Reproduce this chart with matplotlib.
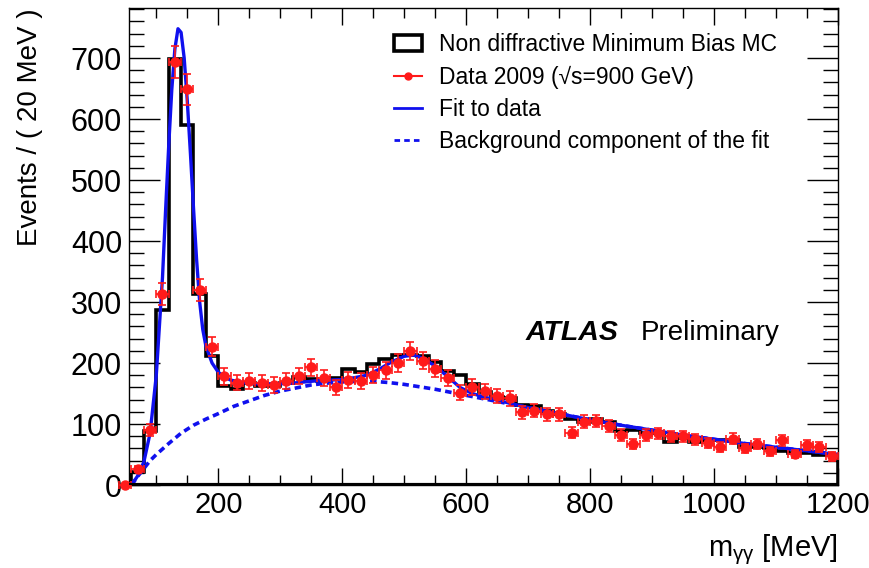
import numpy as np
import matplotlib
matplotlib.use('Agg')
import matplotlib.pyplot as plt
from matplotlib.patches import Patch
from matplotlib.lines import Line2D
from matplotlib.ticker import MultipleLocator

plt.rcParams['font.family'] = ['Liberation Sans', 'DejaVu Sans']
plt.rcParams['mathtext.fontset'] = 'custom'
plt.rcParams['mathtext.rm'] = 'Liberation Sans'
plt.rcParams['mathtext.it'] = 'Liberation Sans:italic'

# MC histogram, 20 MeV bins from 60 to 1200
mc_edges = np.arange(60, 1201, 20)
mc_counts = [22, 88, 287, 698, 591, 313, 212,
             162, 158, 167, 162, 162, 167, 177, 174, 170, 176,
             191, 186, 199, 206, 213, 213, 211, 202, 187, 181,
             165, 152, 144, 143, 131, 129, 121, 116, 108, 104,
             108, 104, 88, 91, 85, 85, 71, 77, 71, 74,
             74, 74, 63, 63, 60, 55, 52, 52, 49, 49]

# data points (bin centres)
data_x = np.arange(50, 1200, 20)
data_y = [0, 26, 90, 313, 694, 649, 320, 227,
          178, 168, 171, 167, 164, 171, 179, 193, 176, 160,
          172, 171, 180, 188, 200, 220, 204, 191, 176, 151,
          161, 154, 146, 142, 119, 122, 116, 116, 86, 104,
          105, 96, 82, 68, 82, 85, 80, 80, 75, 69,
          62, 76, 60, 68, 55, 73, 51, 66, 62, 47]
data_y = np.array(data_y, dtype=float)
data_err = np.sqrt(data_y)

# fit to data
fit_x = [60, 70, 80, 90, 100, 110, 115, 120, 125, 130, 135, 140, 145, 150, 155,
         160, 165, 170, 175, 180, 190, 200, 210, 220, 240, 260, 280, 300, 320,
         340, 360, 380, 400, 420, 440, 460, 480, 500, 515, 530, 550, 570, 590,
         610, 630, 650, 700, 750, 800, 850, 900, 950, 1000, 1050, 1100, 1150, 1200]
fit_y = [0, 15, 38, 85, 180, 340, 450, 555, 648, 715, 748, 742, 700, 630, 545,
         455, 370, 300, 255, 228, 200, 185, 177, 172, 168, 166, 166, 166, 167,
         169, 171, 172, 173, 176, 180, 190, 202, 211, 213, 208, 195, 178, 160,
         150, 144, 139, 127, 117, 107, 98, 90, 82, 75, 68, 62, 56, 50]

# background component
bkg_x = [60, 70, 80, 90, 100, 120, 140, 160, 180, 200, 225, 250, 275, 300, 325,
         350, 375, 400, 425, 450, 475, 500, 525, 550, 575, 600, 650, 700, 750,
         800, 850, 900, 950, 1000, 1050, 1100, 1150, 1200]
bkg_y = [0, 14, 27, 40, 50, 68, 85, 98, 108, 117, 129, 138, 147, 154, 159,
         164, 167, 169, 170, 170, 168, 165, 161, 157, 152, 147, 137, 127, 117,
         107, 98, 90, 82, 75, 68, 62, 56, 50]

fig = plt.figure(figsize=(8.7, 5.68), dpi=100)
ax = fig.add_axes([0.1483, 0.1461, 0.8149, 0.8398])

ax.stairs(mc_counts, mc_edges, baseline=0, fill=False, color='black', linewidth=2.6, zorder=2)
ax.plot(bkg_x, bkg_y, color='#1010ee', linewidth=2.6, linestyle=(0, (1.8, 1.2)), zorder=3)
ax.plot(fit_x, fit_y, color='#1010ee', linewidth=2.4, zorder=3)
ax.errorbar(data_x, data_y, yerr=data_err, xerr=10, fmt='o', color='#ff1a1a',
            markersize=6.5, elinewidth=1.2, capsize=3, capthick=1.2, zorder=4, clip_on=False)

ax.set_xlim(56, 1200)
ax.set_ylim(0, 782)
ax.axhline(0, color='black', linewidth=3, zorder=5)

ax.xaxis.set_major_locator(MultipleLocator(200))
ax.xaxis.set_minor_locator(MultipleLocator(50))
ax.yaxis.set_major_locator(MultipleLocator(100))
ax.yaxis.set_minor_locator(MultipleLocator(20))
ax.tick_params(axis='both', which='both', direction='in', top=True, right=True)
ax.tick_params(axis='y', labelsize=22)
ax.tick_params(axis='x', labelsize=21)
ax.tick_params(axis='y', which='major', length=22, width=1, pad=5)
ax.tick_params(axis='y', which='minor', length=11, width=1)
ax.tick_params(axis='x', which='major', length=12, width=1, pad=4)
ax.tick_params(axis='x', which='minor', length=7, width=1)
for s in ax.spines.values():
    s.set_linewidth(1)

ax.set_ylabel('Events / ( 20 MeV )', fontsize=20, loc='top', labelpad=20)
ax.set_xlabel('m$_{\\mathrm{\u03b3\u03b3}}$ [MeV]', fontsize=21, loc='right', labelpad=10)

handles = [Patch(facecolor='white', edgecolor='black', linewidth=2.6),
           Line2D([], [], color='#ff1a1a', marker='o', markersize=5, linewidth=1.5),
           Line2D([], [], color='#1010ee', linewidth=2),
           Line2D([], [], color='#1010ee', linewidth=2, linestyle=(0, (2, 1.5)))]
labels = ['Non diffractive Minimum Bias MC',
          'Data 2009 (\u221as=900 GeV)',
          'Fit to data',
          'Background component of the fit']
ax.legend(handles, labels, loc='upper left', bbox_to_anchor=(0.344, 0.99), frameon=False,
          fontsize=16.5, handlelength=1.25, handletextpad=0.75, labelspacing=0.4)

ax.text(0.56, 0.303, 'ATLAS', transform=ax.transAxes, fontsize=20.5, fontweight='bold',
        fontstyle='italic')
ax.text(0.722, 0.303, 'Preliminary', transform=ax.transAxes, fontsize=20)

fig.savefig('out.png', dpi=100)
